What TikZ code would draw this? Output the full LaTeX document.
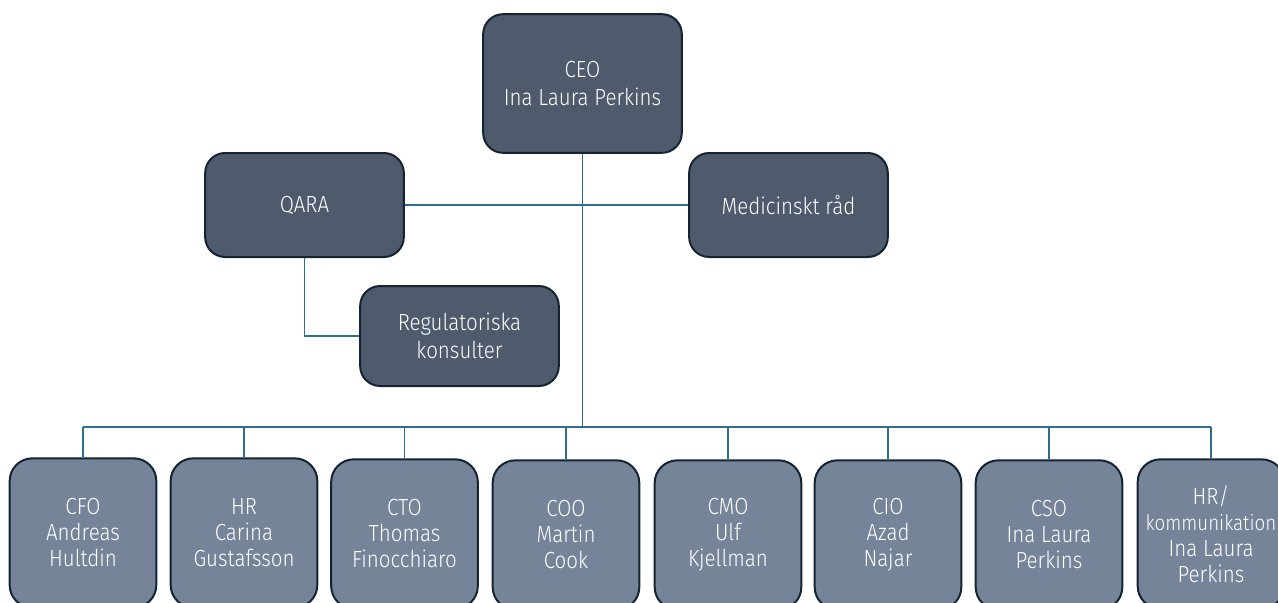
\documentclass[tikz,border=0pt]{standalone}
\usepackage{fontspec}
\setmainfont{Fira Sans}[UprightFont={* Light}, FakeStretch=0.88]
\usetikzlibrary{calc}
\definecolor{topfill}{HTML}{4F5A6C}
\definecolor{lowfill}{HTML}{76849A}
\definecolor{boxline}{HTML}{142431}
\definecolor{linkcol}{HTML}{2E6E8E}
\tikzset{
	topbox/.style={draw=boxline, line width=1.5pt, fill=topfill, rounded corners=15pt, text=white, align=center, minimum width=149pt, font=\fontsize{17.5}{20.5}\selectfont},
	lowbox/.style={draw=boxline, line width=1.5pt, fill=lowfill, rounded corners=17pt, text=white, align=center, minimum width=110pt, minimum height=112pt, font=\fontsize{17.5}{19.5}\selectfont},
	link/.style={draw=linkcol, line width=1.1pt}
}

\begin{document}
\begin{tikzpicture}[x=0.75pt, y=-0.75pt]
			%%%%% START %%%%%
			
			\useasboundingbox (0, 0) rectangle (1278, 603);
			
			\node[topbox, minimum height=104pt] (ceo) at (582.5, 83.5) {CEO\\Ina Laura Perkins};
			\node[topbox, minimum height=78pt] (qara) at (304.5, 205) {QARA};
			\node[topbox, minimum height=78pt] (med) at (788.5, 205) {Medicinskt råd};
			\node[topbox, minimum height=75pt] (reg) at (459.5, 336) {Regulatoriska\\konsulter};
			
			\node[lowbox] (cfo) at (83, 533) {CFO\\Andreas\\Hultdin};
			\node[lowbox] (hr) at (244, 533) {HR\\Carina\\Gustafsson};
			\node[lowbox] (cto) at (404.5, 534) {CTO\\Thomas\\Finocchiaro};
			\node[lowbox] (coo) at (566, 535) {COO\\Martin\\Cook};
			\node[lowbox] (cmo) at (728, 535) {CMO\\Ulf\\Kjellman};
			\node[lowbox] (cio) at (888, 535) {CIO\\Azad\\Najar};
			\node[lowbox] (cso) at (1049, 535) {CSO\\Ina Laura\\Perkins};
			\node[lowbox] (hrk) at (1211, 534) {HR/\\{\fontsize{16}{18}\selectfont kommunikation}\\Ina Laura\\Perkins};
			
			\coordinate (bus) at (582.5, 427);
			
			\draw[link] (ceo.south) -- (bus);
			\draw[link] (qara.east) -- (med.west);
			\draw[link] (qara.south) |- (reg.west);
			\draw[link] (cfo.north |- bus) -- (hrk.north |- bus);
			\foreach \n in {cfo, hr, cto, coo, cmo, cio, cso, hrk}
				\draw[link] (\n.north |- bus) -- (\n.north);
			
			%%%%% END %%%%%
\end{tikzpicture}
\end{document}
